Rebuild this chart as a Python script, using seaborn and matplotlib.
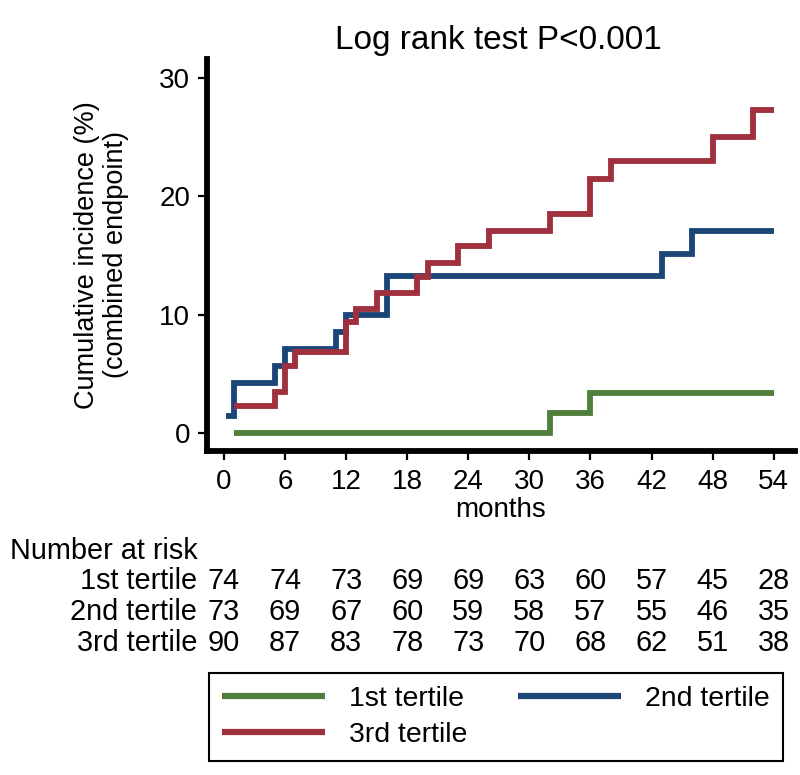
import pandas as pd
import matplotlib.pyplot as plt
import matplotlib.transforms as mtransforms
from matplotlib.lines import Line2D
import seaborn as sns

# Step curves: change times (months) and cumulative incidence (%)
t1_months = [1, 32, 36, 54]
t1_inc = [0, 1.7, 3.35, 3.35]
t2_months = [0.2, 1, 5, 6, 11, 12, 16, 43, 46, 54]
t2_inc = [1.45, 4.25, 5.65, 7.1, 8.5, 10.0, 13.3, 15.1, 17.1, 17.1]
t3_months = [1, 5, 6, 7, 12, 13, 15, 19, 20, 23, 26, 32, 36, 38, 48, 52, 54]
t3_inc = [2.25, 3.5, 5.7, 6.85, 9.4, 10.5, 11.8, 13.15, 14.4, 15.8, 17.1,
          18.5, 21.5, 23.0, 25.0, 27.3, 27.3]

groups = ['1st tertile', '2nd tertile', '3rd tertile']
colors = ['#4F7F3B', '#1C4677', '#A0303E']

# Number at risk table
risk_months = [0, 6, 12, 18, 24, 30, 36, 42, 48, 54]
risk_1 = [74, 74, 73, 69, 69, 63, 60, 57, 45, 28]
risk_2 = [73, 69, 67, 60, 59, 58, 57, 55, 46, 35]
risk_3 = [90, 87, 83, 78, 73, 70, 68, 62, 51, 38]

df = pd.concat([
    pd.DataFrame({'month': t1_months, 'inc': t1_inc, 'group': groups[0]}),
    pd.DataFrame({'month': t2_months, 'inc': t2_inc, 'group': groups[1]}),
    pd.DataFrame({'month': t3_months, 'inc': t3_inc, 'group': groups[2]}),
], ignore_index=True)

sns.set_style('ticks')
plt.rcParams['font.family'] = ['Liberation Sans', 'DejaVu Sans']
plt.rcParams['text.color'] = 'black'
plt.rcParams['axes.labelcolor'] = 'black'
plt.rcParams['xtick.color'] = 'black'
plt.rcParams['ytick.color'] = 'black'

fig = plt.figure(figsize=(8, 7.75), dpi=100)
ax = fig.add_axes([0.2588, 0.4187, 0.735, 0.5052])

sns.lineplot(data=df, x='month', y='inc', hue='group', hue_order=groups,
             palette=colors, estimator=None, sort=False, drawstyle='steps-post',
             linewidth=4.2, solid_capstyle='butt', solid_joinstyle='miter',
             legend=False, ax=ax)

ax.set_xlim(-1.67, 56.1)
ax.set_ylim(-1.48, 31.6)
ax.set_xticks(risk_months)
ax.set_yticks([0, 10, 20, 30])
ax.tick_params(axis='both', length=6.5, width=1.6, labelsize=20)
ax.tick_params(axis='x', pad=6.5)
ax.tick_params(axis='y', pad=5.5)
for s in ['top', 'right']:
    ax.spines[s].set_visible(False)
for s in ['left', 'bottom']:
    ax.spines[s].set_linewidth(4.2)
    ax.spines[s].set_color('black')
ax.set_xlabel('months', fontsize=20, labelpad=2)
ax.set_ylabel('')

fig.text(0.127, 0.671, 'Cumulative incidence (%)\n(combined endpoint)',
         rotation=90, ha='center', va='center', fontsize=19.5, linespacing=1.15)
fig.text(0.623, 1 - 40 / 775, 'Log rank test P<0.001', ha='center', va='center',
         fontsize=24)

# number at risk, columns aligned with the x ticks
trans = mtransforms.blended_transform_factory(ax.transData, fig.transFigure)
fig.text(10 / 800, 1 - 551 / 775, 'Number at risk', ha='left', va='center', fontsize=20.8)
for row, (name, vals) in enumerate(zip(groups, [risk_1, risk_2, risk_3])):
    y = 1 - (581 + 31 * row) / 775
    fig.text(197 / 800, y, name, ha='right', va='center', fontsize=20.8)
    for m, v in zip(risk_months, vals):
        fig.text(m, y, str(v), ha='center', va='center', fontsize=20.8, transform=trans)

handles = [Line2D([], [], color=c, linewidth=4.5, solid_capstyle='butt') for c in colors]
order = [0, 2, 1]
leg = fig.legend([handles[i] for i in order], [groups[i] for i in order],
                 loc='center', bbox_to_anchor=(496 / 800, 1 - 717 / 775), ncol=2,
                 fontsize=20.5, handlelength=3.6, handletextpad=0.85, columnspacing=1.8,
                 labelspacing=0.35, fancybox=False, framealpha=1, edgecolor='black',
                 borderpad=0.45)
leg.get_frame().set_linewidth(1.5)

fig.savefig('out.png', dpi=100)
